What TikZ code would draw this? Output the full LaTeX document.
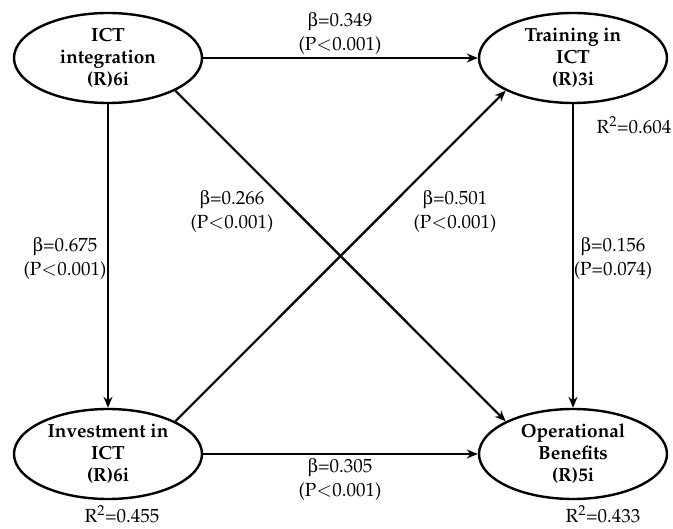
\documentclass[tikz,border=0pt]{standalone}
\usepackage[T1]{fontenc}
\usepackage{mathpazo}
\usepackage[Symbol]{upgreek}
\usepackage{tikz}
\usetikzlibrary{shapes.geometric}
\usetikzlibrary{arrows.meta}

\begin{document}
\begin{tikzpicture}[x=1pt, y=-1pt,
    latent/.style={ellipse, draw, line width=2.4pt, minimum width=188pt, minimum height=90pt,
        inner sep=0pt, align=center, font=\fontsize{19}{22}\selectfont\bfseries},
    link/.style={line width=2.2pt, -{Stealth[length=11pt, width=9pt]}},
    coef/.style={align=center, inner sep=0pt, font=\fontsize{19}{24}\selectfont}]
    \useasboundingbox (0,0) rectangle (673,529);
    % constructs
    \node[latent] (ict) at (108,58) {ICT\\integration\\(R)6i};
    \node[latent] (tr) at (573,58) {Training in\\ICT\\(R)3i};
    \node[latent] (inv) at (108,454) {Investment in\\ICT\\(R)6i};
    \node[latent] (ob) at (573,454) {Operational\\Benefits\\(R)5i};
    % paths
    \draw[link] (ict.east) -- (tr.west);
    \draw[link] (ict.south) -- (inv.north);
    \draw[link] (ict.south east) -- (ob.north west);
    \draw[link] (inv.north east) -- (tr.south west);
    \draw[link] (tr.south) -- (ob.north);
    \draw[link] (inv.east) -- (ob.west);
    % coefficients
    \node[coef] (c349) at (340,34) {$\upbeta$=0.349\\(P$<$0.001)};
    \node[coef] (c675) at (65,259) {$\upbeta$=0.675\\(P$<$0.001)};
    \node[coef] (c266) at (232,212) {$\upbeta$=0.266\\(P$<$0.001)};
    \node[coef] (c501) at (455,212) {$\upbeta$=0.501\\(P$<$0.001)};
    \node[coef] (c156) at (613,259) {$\upbeta$=0.156\\(P=0.074)};
    \node[coef] (c305) at (340,480) {$\upbeta$=0.305\\(P$<$0.001)};
    % R squared
    \node[coef] (r2tr) at (634,125) {R$^2$=0.604};
    \node[coef] (r2inv) at (122,514) {R$^2$=0.455};
    \node[coef] (r2ob) at (603,514) {R$^2$=0.433};
\end{tikzpicture}
\end{document}
